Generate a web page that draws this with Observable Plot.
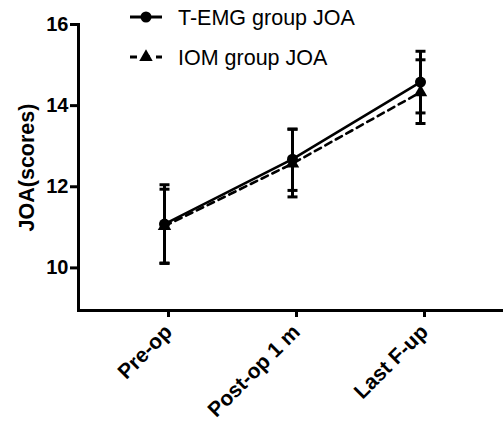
<!DOCTYPE html>
<html><head><meta charset="utf-8">
<script src="https://cdn.jsdelivr.net/npm/d3@7"></script>
<script src="https://cdn.jsdelivr.net/npm/@observablehq/plot@0.6"></script>
<style>
body{margin:0;background:#fff;}
#wrap{position:relative;width:503px;height:422px;font-family:"Liberation Sans",Arial,sans-serif;}
#wrap svg{position:absolute;left:0;top:0;overflow:visible;}
#wrap g[aria-label="y-axis tick label"] text{font-weight:bold !important;font-size:20px !important;}
#wrap g[aria-label="x-axis tick label"] text{font-weight:bold !important;font-size:21px !important;}
#wrap g[aria-label="y-axis label"] text{font-weight:bold !important;font-size:21.5px !important;}
</style></head><body><div id="wrap"></div>
<script>
// ---- data ----
const timepoints = ["Pre-op", "Post-op 1 m", "Last F-up"];
const yTicks = [10, 12, 14, 16];
const seriesNames = ["T-EMG group JOA", "IOM group JOA"];
const temgMean = [11.08, 12.68, 14.58];
const temgLow  = [10.11, 11.75, 13.82];
const temgHigh = [12.05, 13.42, 15.34];
const iomMean  = [11.03, 12.57, 14.33];
const iomLow   = [10.12, 11.91, 13.56];
const iomHigh  = [11.94, 13.42, 15.13];
const yLabel = "JOA(scores)";

const rows = [];
timepoints.forEach((t, i) => {
  rows.push({time: t, group: seriesNames[0], mean: temgMean[i], low: temgLow[i], high: temgHigh[i]});
  rows.push({time: t, group: seriesNames[1], mean: iomMean[i], low: iomLow[i], high: iomHigh[i]});
});
const temg = rows.filter(d => d.group === seriesNames[0]);
const iom = rows.filter(d => d.group === seriesNames[1]);

// horizontal cap symbol for error bars
const capSymbol = {draw(ctx, size) { const w = Math.sqrt(size / Math.PI); ctx.moveTo(-w, 0); ctx.lineTo(w, 0); }};

const FONT = '"Liberation Sans", Arial, sans-serif';

const chart = Plot.plot({
  width: 503,
  height: 422,
  marginLeft: 78,
  marginRight: 0,
  marginTop: 24,
  marginBottom: 112,
  style: {fontFamily: FONT, fontSize: "20px", color: "#000", background: "transparent"},
  x: {type: "point", domain: timepoints, padding: 0.66, align: 0.51},
  y: {domain: [8.95, 16]},
  marks: [
    Plot.axisY({ticks: yTicks, tickFormat: d3.format("d"), tickSize: 8, tickPadding: 2, strokeWidth: 3, fontSize: 20, fontWeight: "bold",
      label: yLabel, labelAnchor: "center", labelOffset: 60, labelArrow: "none"}),
    Plot.axisX({tickSize: 7, tickPadding: 11, strokeWidth: 3, tickRotate: -45, fontSize: 21, fontWeight: "bold", label: null, dx: 4}),
    Plot.frame({anchor: "left", strokeWidth: 3}),
    Plot.frame({anchor: "bottom", strokeWidth: 3}),
    // error bars
    Plot.ruleX(rows, {x: "time", y1: "low", y2: "high", strokeWidth: 3}),
    Plot.dot(rows, {x: "time", y: "low", symbol: capSymbol, r: 5, stroke: "black", strokeWidth: 3, fill: "none"}),
    Plot.dot(rows, {x: "time", y: "high", symbol: capSymbol, r: 5, stroke: "black", strokeWidth: 3, fill: "none"}),
    // lines
    Plot.line(temg, {x: "time", y: "mean", strokeWidth: 2.6}),
    Plot.line(iom, {x: "time", y: "mean", strokeWidth: 2.6, strokeDasharray: "7,5"}),
    // markers
    Plot.dot(temg, {x: "time", y: "mean", r: 5.5, fill: "black", stroke: "none"}),
    Plot.dot(iom, {x: "time", y: "mean", symbol: "triangle", r: 5, fill: "black", stroke: "none"})
  ]
});
document.getElementById("wrap").appendChild(chart);

// legend overlay
const leg = d3.select("#wrap").append("svg").attr("width", 503).attr("height", 80)
  .style("font-family", FONT);
const items = [
  {name: seriesNames[0], y: 17, dash: null, sym: d3.symbolCircle, size: Math.PI * 5.5 * 5.5},
  {name: seriesNames[1], y: 57, dash: "7,6", sym: d3.symbolTriangle, size: Math.PI * 5 * 5}
];
items.forEach(it => {
  leg.append("line").attr("x1", 130).attr("x2", 162).attr("y1", it.y).attr("y2", it.y)
    .attr("stroke", "black").attr("stroke-width", 3).attr("stroke-dasharray", it.dash);
  leg.append("path").attr("d", d3.symbol(it.sym, it.size)()).attr("transform", `translate(146,${it.y})`).attr("fill", "black");
  leg.append("text").attr("x", 178).attr("y", it.y).attr("dy", "0.35em").attr("font-size", 21.5).text(it.name);
});
</script>
</body></html>
